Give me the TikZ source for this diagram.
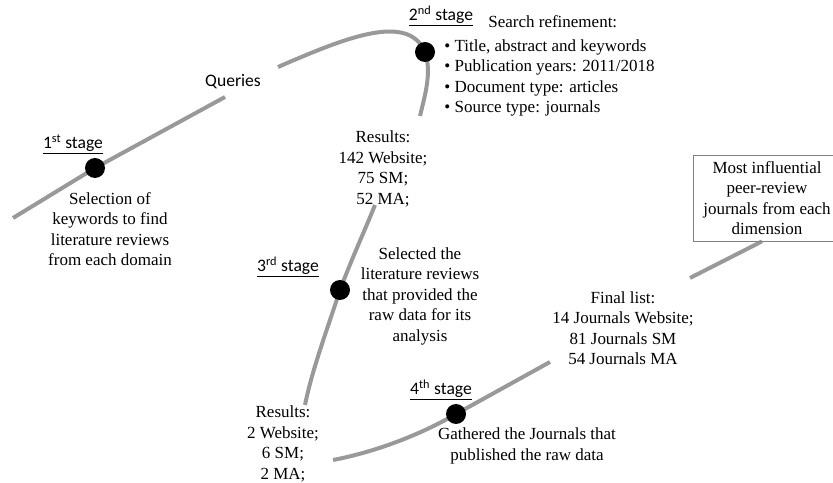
\documentclass[tikz,border=0pt]{standalone}
\usepackage{fontspec}
\setmainfont{Liberation Serif}
\newfontfamily\stagefont{Carlito}
\usetikzlibrary{positioning,backgrounds}
\definecolor{trackgray}{HTML}{999999}

\tikzset{
  track/.style={draw=trackgray, line width=3.4pt},
  stagedot/.style={circle, fill=black, minimum size=0.6cm, inner sep=0pt},
  stagelabel/.style={font={\stagefont\fontsize{15}{18}\selectfont}, inner sep=1pt},
  note/.style={align=center, font={\fontsize{14.5}{17.5}\selectfont}, inner sep=1pt},
}

\begin{document}
\begin{tikzpicture}[x=0.03cm, y=-0.03cm]
\useasboundingbox (0,0) rectangle (833,483);

% stages on the track
\node[stagedot] (s1) at (95,168) {};
\node[stagedot] (s2) at (425,52) {};
\node[stagedot] (s3) at (340,290) {};
\node[stagedot] (s4) at (456,414) {};

\node[stagelabel] (l1) at (73,144) {\underline{1\textsuperscript{st} stage}};
\node[stagelabel] (l2) at (441,16) {\underline{2\textsuperscript{nd} stage}};
\node[stagelabel] (l3) at (288,267) {\underline{3\textsuperscript{rd} stage}};
\node[stagelabel] (l4) at (441,390) {\underline{4\textsuperscript{th} stage}};
\node[stagelabel] (qry) at (233,82) {Queries};

% texts
\node[note] (sel) at (110,229) {Selection of\\keywords to find\\literature reviews\\from each domain};
\node[note, anchor=west] (ref) at (487,22) {Search refinement:};
\node[note, align=left, anchor=west] (crit) at (443,78) {\textbullet\ Title, abstract and keywords\\\textbullet\ Publication years: 2011/2018\\\textbullet\ Document type: articles\\\textbullet\ Source type: journals};
\node[note] (res1) at (383,169) {Results:\\142 Website;\\75 SM;\\52 MA;};
\node[note] (sel3) at (420,296) {Selected the\\literature reviews\\that provided the\\raw data for its\\analysis};
\node[note] (res2) at (283,444) {Results:\\2 Website;\\6 SM;\\2 MA;};
\node[note] (gath) at (527,446) {Gathered the Journals that\\published the raw data};
\node[note] (fin) at (623,328) {Final list:\\14 Journals Website;\\81 Journals SM\\54 Journals MA};
\node[note, draw=gray, line width=0.6pt, minimum width=4.44cm, minimum height=2.58cm] (box) at (767,198) {Most influential\\peer-review\\journals from each\\dimension};

% the track
\coordinate (t0) at (13,218);
\coordinate (t1) at (225,97);
\coordinate (t2) at (278,67);
\coordinate (t3) at (420,116);
\coordinate (t4) at (375,205);
\coordinate (t5) at (305,405);
\coordinate (t6) at (333,460);
\coordinate (t7) at (550,362);
\coordinate (t8) at (690,278);

\begin{scope}[on background layer]
\draw[track] (t0) -- (s1.center) -- (t1);
\draw[track] (t2) .. controls (345,38) and (408,12) .. (s2.center) .. controls (432,72) and (425,95) .. (t3);
\draw[track] (t4) .. controls (365,230) and (352,258) .. (s3.center) .. controls (327,330) and (312,370) .. (t5);
\draw[track] (t6) .. controls (375,452) and (420,435) .. (s4.center) -- (t7);
\draw[track] (t8) -- ([xshift=-0.15cm]box.south);
\end{scope}
\end{tikzpicture}
\end{document}
